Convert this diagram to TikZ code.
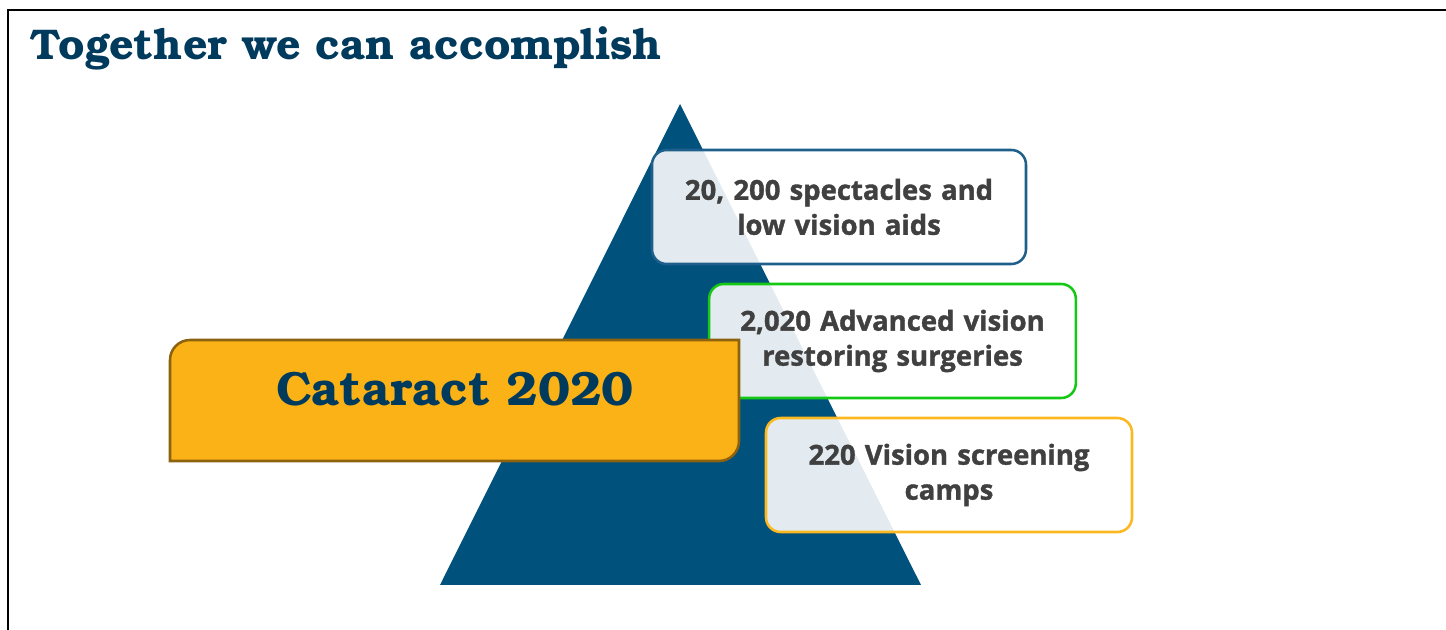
\documentclass[tikz,border=0pt]{standalone}
\usepackage{fontspec}
\setmainfont{TeX Gyre Bonum}
\newfontfamily\boxfont{Open Sans}[BoldFeatures={FakeBold=1.3}]
\definecolor{navy}{RGB}{0,58,93}
\definecolor{triblue}{RGB}{0,81,124}
\definecolor{txtgray}{RGB}{64,64,64}
\definecolor{bdblue}{RGB}{31,95,139}
\definecolor{bdgreen}{RGB}{20,200,20}
\definecolor{bdgold}{RGB}{251,184,32}
\definecolor{catfill}{RGB}{251,178,22}
\definecolor{catline}{RGB}{140,98,14}
\tikzset{
  infobox/.style={draw, line width=1.9pt, rounded corners=11pt, fill=white, fill opacity=0.89, text opacity=1,
    minimum height=85.5pt, text width=270pt, align=center, inner sep=0pt,
    font=\boxfont\bfseries\fontsize{20.6}{26.25}\selectfont, text=txtgray},
  frameline/.style={line width=1.3pt, black}
}
\begin{document}
\begin{tikzpicture}[x=0.75pt,y=0.75pt]
\useasboundingbox (0,0) rectangle (1446,-630);
\coordinate (fbl) at (8,-630);
\coordinate (ftl) at (8,-10);
\coordinate (ftr) at (1446,-10);
\draw[frameline] (fbl) -- (ftl) -- (ftr);
\node[anchor=west, text=navy, font=\bfseries\fontsize{32.2}{38}\selectfont, inner sep=0pt] (title) at (30,-48) {Together we can accomplish};
% pyramid
\coordinate (apex) at (680,-104);
\coordinate (bl) at (440,-585);
\coordinate (br) at (921,-585);
\fill[triblue] (apex) -- (bl) -- (br) -- cycle;
% info boxes
\node[infobox, draw=bdblue, minimum width=280.5pt] (b1) at (839,-207) {20, 200 spectacles and\\low vision aids};
\node[infobox, draw=bdgreen, minimum width=275pt] (b2) at (892.5,-341) {2,020 Advanced vision\\restoring surgeries};
\node[infobox, draw=bdgold, minimum width=274.5pt] (b3) at (949,-475) {220 Vision screening\\camps};
% cataract box
\draw[fill=catfill, draw=catline, line width=1.9pt] (170,-461) -- (170,-360) arc (180:90:20) -- (739,-340) -- (739,-441) arc (0:-90:20) -- cycle;
\node[text=navy, font=\bfseries\fontsize{36}{40}\selectfont, inner sep=0pt] (cat) at (455,-389) {Cataract 2020};
\end{tikzpicture}
\end{document}
